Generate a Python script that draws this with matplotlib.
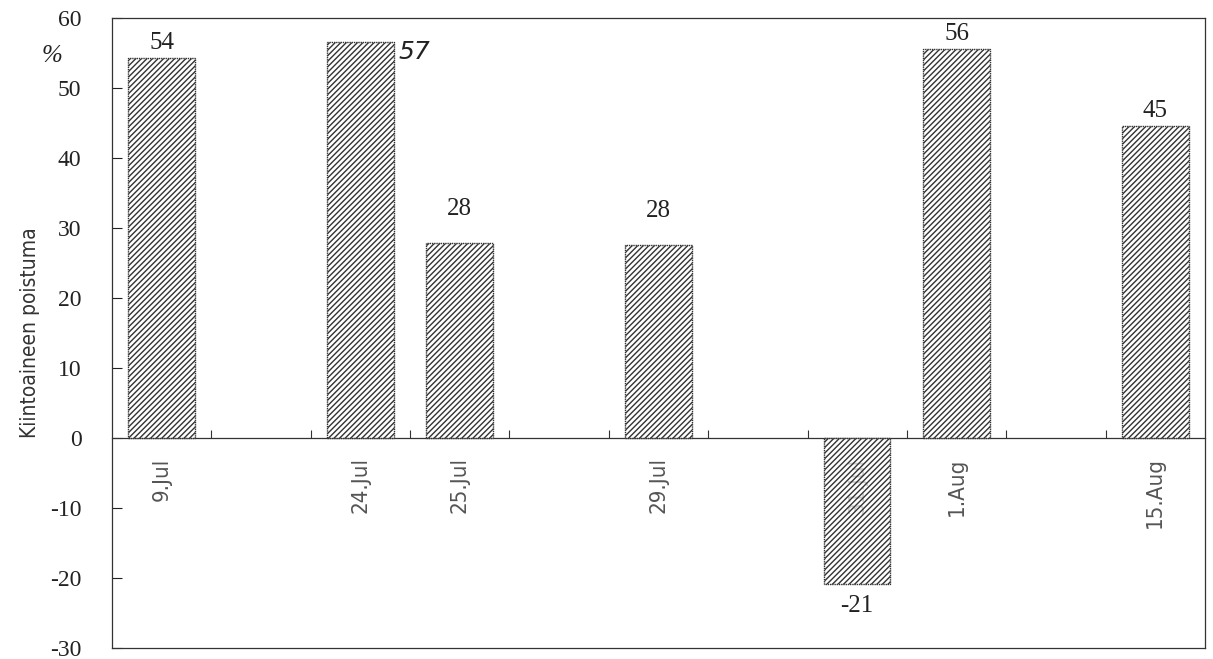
import matplotlib
matplotlib.use("Agg")
import matplotlib.pyplot as plt
import numpy as np

# Sampling dates (empty strings are spacer slots on the date axis)
categories = ["9.Jul", "", "24.Jul", "25.Jul", "", "29.Jul", "", "31.Jul", "1.Aug", "", "15.Aug"]
# Suspended solids removal, % (None = no sample)
removal = [54.3, None, 56.6, 27.8, None, 27.6, None, -20.9, 55.6, None, 44.6]

y_ticks = [-30, -20, -10, 0, 10, 20, 30, 40, 50, 60]
y_label = "Kiintoaineen poistuma"
unit_label = "%"

plt.rcParams["hatch.color"] = "#444444"
plt.rcParams["hatch.linewidth"] = 1.0

fig = plt.figure(figsize=(12.13, 6.59), dpi=100)
ax = fig.add_axes([0.0923, 0.0167, 0.9011, 0.956])

x = np.arange(len(categories))
bar_x = [xi for xi, v in zip(x, removal) if v is not None]
bar_v = [v for v in removal if v is not None]

bars = ax.bar(bar_x, bar_v, width=0.67, facecolor=(1, 1, 1, 0.7),
              edgecolor="#333333", linewidth=1.0, linestyle=(0, (1, 0.6)),
              hatch="//////", zorder=3)

# Value labels
serif = ["Liberation Serif", "DejaVu Serif"]
for xi, v in zip(bar_x, bar_v):
    txt = f"{v:.0f}"
    if v < 0:
        ax.text(xi, v - 1.6, txt, ha="center", va="top", fontsize=18,
                family=serif, color="#222222")
    elif xi == 2:
        ax.text(xi + 0.38, v + 0.3, txt, ha="left", va="top", fontsize=18,
                family="DejaVu Sans", style="italic", color="#222222")
    elif xi in (3, 5):
        ax.text(xi, v + 3.3, txt, ha="center", va="bottom", fontsize=18,
                family=serif, color="#222222")
    else:
        ax.text(xi, v + 0.5, txt, ha="center", va="bottom", fontsize=18,
                family=serif, color="#222222")

ax.set_xlim(-0.5, len(categories) - 0.5)
ax.set_ylim(-30, 60)

# Y axis: ticks pointing inward, serif labels
ax.set_yticks(y_ticks)
ax.set_yticklabels([str(t) for t in y_ticks], family=serif, fontsize=17, color="#222222")
ax.tick_params(axis="y", direction="in", length=7, width=0.8, pad=22, colors="#222222")
for lbl in ax.get_yticklabels():
    lbl.set_horizontalalignment("right")

# X axis on the zero line: boundary ticks pointing up, date labels below
ax.spines["bottom"].set_position(("data", 0))
ax.set_xticks(np.arange(0.5, len(categories) - 0.5, 1.0))
ax.set_xticklabels([])
ax.set_xticks(x, minor=True)
ax.set_xticklabels(categories, minor=True, rotation=90, fontsize=16,
                   family="DejaVu Sans", color="#555555", fontweight="light",
                   fontstretch="condensed")
ax.tick_params(axis="x", which="major", direction="in", length=6, width=0.8, colors="#333333")
ax.tick_params(axis="x", which="minor", length=0, pad=14)
ax.set_axisbelow(True)

for side in ("left", "right", "top", "bottom"):
    ax.spines[side].set_linewidth(0.9)
    ax.spines[side].set_color("#333333")
# Lower frame edge
ax.plot([0, 1], [0, 0], transform=ax.transAxes, color="#333333", lw=0.9, clip_on=False)

ax.set_ylabel(y_label, fontsize=15, family="DejaVu Sans", fontweight="normal",
              fontstretch="condensed", color="#333333")
ax.yaxis.set_label_coords(-0.066, 0.5)
fig.text(0.043, 0.915, unit_label, fontsize=18, family=serif, style="italic",
         color="#222222", ha="center", va="center")

fig.savefig("out.png", dpi=100, facecolor="white")
